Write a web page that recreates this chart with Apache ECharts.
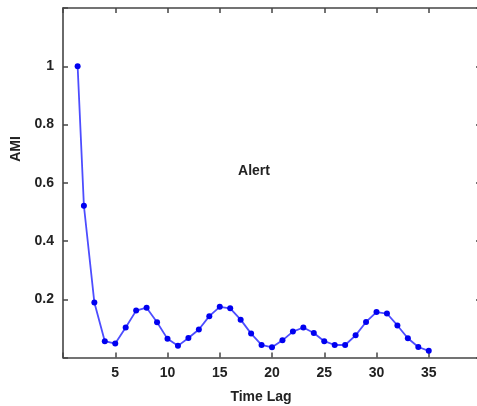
<!DOCTYPE html>
<html>
<head>
<meta charset="utf-8">
<style>
  html, body { margin: 0; padding: 0; background: #fff; }
  #chart { width: 477px; height: 406px; }
</style>
<script src="https://cdn.jsdelivr.net/npm/echarts@6/dist/echarts.min.js"></script>
</head>
<body>
<div id="chart"></div>
<script>
// Average mutual information against time lag
const lags = [1.4, 2, 3, 4, 5, 6, 7, 8, 9, 10, 11, 12, 13, 14, 15, 16, 17, 18,
              19, 20, 21, 22, 23, 24, 25, 26, 27, 28, 29, 30, 31, 32, 33, 34, 35];
const ami = [1.0, 0.521, 0.189, 0.056, 0.048, 0.103, 0.161, 0.171, 0.121, 0.064,
             0.040, 0.067, 0.096, 0.142, 0.174, 0.169, 0.130, 0.082, 0.043, 0.035,
             0.059, 0.089, 0.103, 0.084, 0.056, 0.043, 0.043, 0.076, 0.122, 0.156,
             0.151, 0.110, 0.066, 0.036, 0.023];
const xTickLabels = ['5', '10', '15', '20', '25', '30', '35'];
const yTickLabels = ['0.2', '0.4', '0.6', '0.8', '1'];

const FONT = 'Liberation Sans, Arial, sans-serif';
const axisColor = '#454545';

const points = lags.map((x, i) => [x, ami[i]]);

// Shared frame style: all four sides drawn, ticks pointing inward
const frameAxis = () => ({
  axisLine: { show: true, onZero: false, lineStyle: { color: axisColor, width: 1.6 } },
  axisTick: { show: true, inside: true, length: 5, lineStyle: { color: axisColor, width: 1.5 } },
  splitLine: { show: false }
});

const chart = echarts.init(document.getElementById('chart'));
chart.setOption({
  animation: false,
  grid: { left: 63, right: -4, top: 8, bottom: 48.5, containLabel: false, outerBoundsMode: 'none' },
  xAxis: [
    Object.assign({
      type: 'value', position: 'bottom', min: 0, max: 40, interval: 5,
      axisLabel: {
        color: '#222', fontFamily: FONT, fontWeight: 'bold', fontSize: 14, margin: 9,
        formatter: v => xTickLabels.includes(String(v)) ? String(v) : ''
      }
    }, frameAxis()),
    Object.assign({
      type: 'value', position: 'top', min: 0, max: 40, interval: 5,
      axisLabel: { show: false }
    }, frameAxis())
  ],
  yAxis: [
    Object.assign({
      type: 'value', position: 'left', min: 0, max: 1.2, interval: 0.2,
      axisLabel: {
        color: '#222', fontFamily: FONT, fontWeight: 'bold', fontSize: 14, margin: 9,
        formatter: v => {
          const s = String(Math.round(v * 10) / 10);
          return yTickLabels.includes(s) ? s : '';
        }
      }
    }, frameAxis()),
    Object.assign({
      type: 'value', position: 'right', min: 0, max: 1.2, interval: 0.2,
      axisLabel: { show: false }
    }, frameAxis())
  ],
  graphic: [
    {
      type: 'text', x: 261, y: 397,
      style: { text: 'Time Lag', fill: '#222', font: 'bold 14px ' + FONT,
               textAlign: 'center', textVerticalAlign: 'middle' }
    },
    {
      type: 'text', x: 16, y: 149, rotation: Math.PI / 2,
      style: { text: 'AMI', fill: '#222', font: 'bold 14px ' + FONT,
               textAlign: 'center', textVerticalAlign: 'middle' }
    },
    {
      type: 'text', x: 254, y: 171.5,
      style: { text: 'Alert', fill: '#222', font: 'bold 14px ' + FONT,
               textAlign: 'center', textVerticalAlign: 'middle' }
    }
  ],
  series: [{
    type: 'line',
    data: points,
    xAxisIndex: 0,
    yAxisIndex: 0,
    symbol: 'circle',
    symbolSize: 6,
    showAllSymbol: true,
    lineStyle: { color: '#4d4dff', width: 1.8 },
    itemStyle: { color: '#0000f0' }
  }]
});
</script>
</body>
</html>
